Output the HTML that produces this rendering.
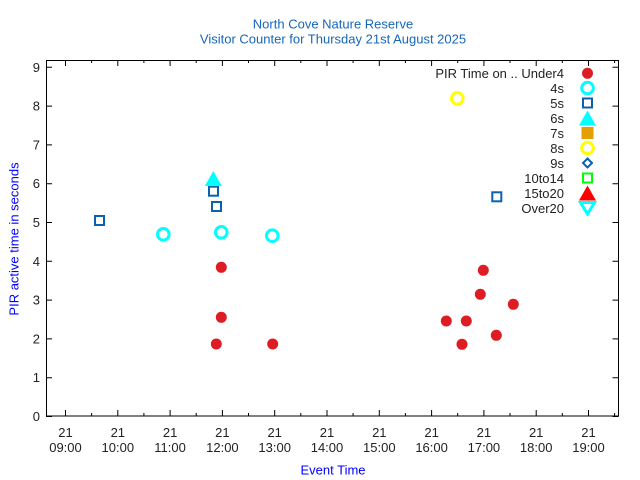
<!DOCTYPE html>
<html>
<head>
<meta charset="utf-8">
<style>
html,body{margin:0;padding:0;background:#fff;}
svg{display:block;}
text{font-family:"Liberation Sans",Arial,sans-serif;font-size:13px;}
</style>
</head>
<body>
<svg width="640" height="480" viewBox="0 0 640 480" xmlns="http://www.w3.org/2000/svg">
<rect x="0" y="0" width="640" height="480" fill="#fff"/>
<!-- titles -->
<text x="333" y="28.5" text-anchor="middle" fill="#1767b8">North Cove Nature Reserve</text>
<text x="333" y="43.5" text-anchor="middle" fill="#1767b8">Visitor Counter for Thursday 21st August 2025</text>

<!-- ticks -->
<g stroke="#000" stroke-width="1">
  <!-- y major ticks left & right -->
  <path d="M46,416.5h6M46,377.7h6M46,338.9h6M46,300.1h6M46,261.3h6M46,222.5h6M46,183.7h6M46,144.9h6M46,106.1h6M46,67.3h6"/>
  <path d="M618.5,416.5h-6M618.5,377.7h-6M618.5,338.9h-6M618.5,300.1h-6M618.5,261.3h-6M618.5,222.5h-6M618.5,183.7h-6M618.5,144.9h-6M618.5,106.1h-6M618.5,67.3h-6"/>
  <!-- x major ticks bottom -->
  <path d="M65.5,416v-6M117.8,416v-6M170.1,416v-6M222.4,416v-6M274.7,416v-6M327,416v-6M379.3,416v-6M431.6,416v-6M483.9,416v-6M536.2,416v-6M588.5,416v-6"/>
  <!-- x minor bottom -->
  <path d="M91.6,416v-3M143.9,416v-3M196.2,416v-3M248.5,416v-3M300.8,416v-3M353.1,416v-3M405.4,416v-3M457.7,416v-3M510,416v-3M562.3,416v-3M614.6,416v-3"/>
  <!-- x major top -->
  <path d="M65.5,60v6M117.8,60v6M170.1,60v6M222.4,60v6M274.7,60v6M327,60v6M379.3,60v6M431.6,60v6M483.9,60v6M536.2,60v6M588.5,60v6"/>
  <path d="M91.6,60v3M143.9,60v3M196.2,60v3M248.5,60v3M300.8,60v3M353.1,60v3M405.4,60v3M457.7,60v3M510,60v3M562.3,60v3M614.6,60v3"/>
</g>
<!-- frame -->
<rect x="46.5" y="60.5" width="572" height="355.5" fill="none" stroke="#000" stroke-width="1"/>

<!-- y tick labels -->
<g fill="#222" text-anchor="end">
  <text x="40" y="421">0</text>
  <text x="40" y="382.2">1</text>
  <text x="40" y="343.4">2</text>
  <text x="40" y="304.6">3</text>
  <text x="40" y="265.8">4</text>
  <text x="40" y="227">5</text>
  <text x="40" y="188.2">6</text>
  <text x="40" y="149.4">7</text>
  <text x="40" y="110.6">8</text>
  <text x="40" y="71.8">9</text>
</g>
<!-- x tick labels -->
<g fill="#222" text-anchor="middle">
  <text x="65.5" y="437">21</text><text x="65.5" y="452">09:00</text>
  <text x="117.8" y="437">21</text><text x="117.8" y="452">10:00</text>
  <text x="170.1" y="437">21</text><text x="170.1" y="452">11:00</text>
  <text x="222.4" y="437">21</text><text x="222.4" y="452">12:00</text>
  <text x="274.7" y="437">21</text><text x="274.7" y="452">13:00</text>
  <text x="327" y="437">21</text><text x="327" y="452">14:00</text>
  <text x="379.3" y="437">21</text><text x="379.3" y="452">15:00</text>
  <text x="431.6" y="437">21</text><text x="431.6" y="452">16:00</text>
  <text x="483.9" y="437">21</text><text x="483.9" y="452">17:00</text>
  <text x="536.2" y="437">21</text><text x="536.2" y="452">18:00</text>
  <text x="588.5" y="437">21</text><text x="588.5" y="452">19:00</text>
</g>

<!-- axis labels -->
<text x="333" y="474.5" text-anchor="middle" fill="#0000ff">Event Time</text>
<text transform="translate(18.5,239) rotate(-90)" text-anchor="middle" fill="#0000ff">PIR active time in seconds</text>

<!-- data: Under4 red dots -->
<g fill="#dd1c24">
  <circle cx="221.3" cy="267.3" r="5.5"/>
  <circle cx="221.3" cy="317.3" r="5.5"/>
  <circle cx="216.3" cy="344" r="5.5"/>
  <circle cx="272.7" cy="344" r="5.5"/>
  <circle cx="483.3" cy="270.3" r="5.5"/>
  <circle cx="480.3" cy="294.3" r="5.5"/>
  <circle cx="513.3" cy="304.3" r="5.5"/>
  <circle cx="446.3" cy="321" r="5.5"/>
  <circle cx="466.3" cy="321" r="5.5"/>
  <circle cx="496.3" cy="335.3" r="5.5"/>
  <circle cx="462" cy="344.3" r="5.5"/>
</g>
<!-- 4s cyan rings -->
<g fill="none" stroke="#00ffff" stroke-width="3">
  <circle cx="163.3" cy="234.3" r="5.8"/>
  <circle cx="221.3" cy="232.3" r="5.8"/>
  <circle cx="272.3" cy="235.7" r="5.8"/>
</g>
<!-- 5s squares -->
<g fill="none" stroke="#0a62ae" stroke-width="2">
  <rect x="95" y="216" width="9" height="9"/>
  <rect x="209" y="186.7" width="9" height="9"/>
  <rect x="212" y="202" width="9" height="9"/>
  <rect x="492.3" y="192.3" width="9" height="9"/>
</g>
<!-- 6s triangle -->
<polygon points="213.3,171 204.8,186 221.8,186" fill="#00ffff"/>
<!-- 8s yellow ring -->
<circle cx="457.3" cy="98.3" r="5.8" fill="none" stroke="#ffff00" stroke-width="3"/>

<!-- legend -->
<g fill="#222" text-anchor="end">
  <text x="564" y="78">PIR Time on .. Under4</text>
  <text x="564" y="93">4s</text>
  <text x="564" y="108">5s</text>
  <text x="564" y="123">6s</text>
  <text x="564" y="138">7s</text>
  <text x="564" y="153">8s</text>
  <text x="564" y="168">9s</text>
  <text x="564" y="183">10to14</text>
  <text x="564" y="198">15to20</text>
  <text x="564" y="213">Over20</text>
</g>
<circle cx="587.5" cy="73.3" r="5.5" fill="#dd1c24"/>
<circle cx="587.5" cy="88" r="5.8" fill="none" stroke="#00ffff" stroke-width="3"/>
<rect x="583" y="98.5" width="9" height="9" fill="none" stroke="#0a62ae" stroke-width="2"/>
<polygon points="587.5,110.5 579,125.5 596,125.5" fill="#00ffff"/>
<rect x="581.5" y="127" width="12" height="12" fill="#e69f00"/>
<circle cx="587.5" cy="148" r="5.8" fill="none" stroke="#ffff00" stroke-width="3"/>
<polygon points="587.5,158.5 592,163 587.5,167.5 583,163" fill="none" stroke="#0a62ae" stroke-width="2"/>
<rect x="583" y="173.5" width="9" height="9" fill="none" stroke="#00ff00" stroke-width="2"/>
<polygon points="587.5,185.5 579,200.5 596,200.5" fill="#ff0000"/>
<polygon points="580.5,202.5 594.5,202.5 587.5,214" fill="none" stroke="#00ffff" stroke-width="3"/>
</svg>
</body>
</html>
